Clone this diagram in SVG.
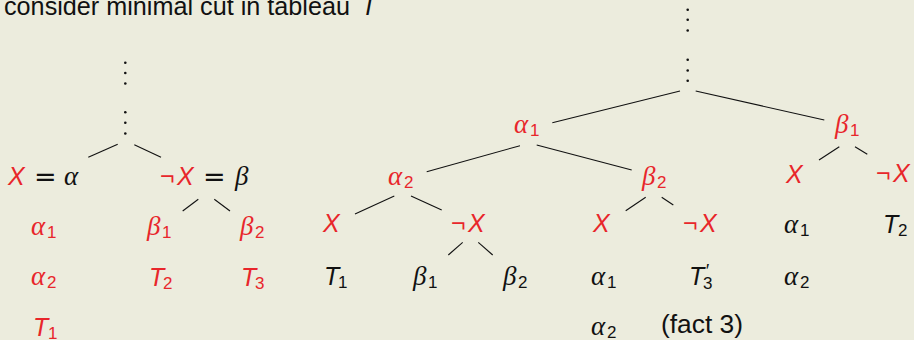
<svg xmlns="http://www.w3.org/2000/svg" width="914" height="340" viewBox="0 0 914 340">
<style>
.t{font-family:"Liberation Sans",Arial,sans-serif;font-size:25px}
.v{font-family:"Liberation Sans",Arial,sans-serif;font-size:25px;font-style:italic}
.g{font-family:"Liberation Serif","DejaVu Serif",serif;font-size:27px;font-style:italic}
.s{font-family:"Liberation Sans",Arial,sans-serif;font-size:17px}
.eq{font-family:"DejaVu Sans",sans-serif;font-size:27px}
.r{fill:#E8262B}
.k{fill:#111}
.e line{stroke:#111;stroke-width:1.1}
.d circle{fill:#111}
</style>
<rect width="914" height="340" fill="#ECECDD"/>
<g id="title">
<text class="t k" x="4" y="15" textLength="346" lengthAdjust="spacingAndGlyphs">consider minimal cut in tableau</text>
<text class="v k" x="361" y="15">T</text>
</g>
<g id="connectors" class="e">
<line x1="117.7" y1="144.3" x2="88.3" y2="157.3"/>
<line x1="134.3" y1="144.7" x2="161" y2="157.3"/>
<line x1="198.3" y1="199.3" x2="182.7" y2="211"/>
<line x1="214.3" y1="199.3" x2="230" y2="211"/>
<line x1="680" y1="91" x2="552.3" y2="122.7"/>
<line x1="695.7" y1="91" x2="824.3" y2="120"/>
<line x1="520" y1="145.7" x2="426.7" y2="171.7"/>
<line x1="536.7" y1="145" x2="631.7" y2="170"/>
<line x1="394.3" y1="196" x2="355" y2="214"/>
<line x1="411" y1="196" x2="441.7" y2="210"/>
<line x1="462.7" y1="242.3" x2="448.3" y2="255"/>
<line x1="478.3" y1="242.3" x2="492.7" y2="255"/>
<line x1="645.7" y1="197.3" x2="625.7" y2="210.7"/>
<line x1="661.7" y1="197.3" x2="673.3" y2="205"/>
<line x1="839.3" y1="146.7" x2="819" y2="160"/>
<line x1="855" y1="146.7" x2="867.3" y2="154.3"/>
</g>
<!-- left tree -->
<g id="L-root" class="d">
<circle cx="125.3" cy="62.7" r="1.3"/><circle cx="125.3" cy="73" r="1.3"/><circle cx="125.3" cy="83.5" r="1.3"/>
<circle cx="125.3" cy="112.3" r="1.3"/><circle cx="125.3" cy="122.7" r="1.3"/><circle cx="125.3" cy="133.5" r="1.3"/>
</g>
<g id="L-X-alpha">
<text class="v r" x="8" y="185">X</text>
<text class="eq k" x="34" y="186">=</text>
<text class="g k" x="64" y="185">α</text>
</g>
<g id="L-notX-beta">
<text class="t r" x="160" y="185">¬</text>
<text class="v r" x="177" y="185">X</text>
<text class="eq k" x="203" y="186">=</text>
<text class="g k" x="235" y="185">β</text>
</g>
<g id="L-alpha1"><text class="g r" x="31" y="235">α</text><text class="s r" x="47" y="238">1</text></g>
<g id="L-alpha2"><text class="g r" x="31" y="285">α</text><text class="s r" x="47" y="288">2</text></g>
<g id="L-T1"><text class="v r" x="33" y="336">T</text><text class="s r" x="48" y="339">1</text></g>
<g id="L-beta1"><text class="g r" x="147" y="235">β</text><text class="s r" x="162" y="238">1</text></g>
<g id="L-beta2"><text class="g r" x="240" y="235">β</text><text class="s r" x="255" y="238">2</text></g>
<g id="L-T2"><text class="v r" x="149" y="286">T</text><text class="s r" x="163" y="289">2</text></g>
<g id="L-T3"><text class="v r" x="241" y="286">T</text><text class="s r" x="255" y="289">3</text></g>
<!-- right tree -->
<g id="R-root" class="d">
<circle cx="687.7" cy="9.7" r="1.3"/><circle cx="687.7" cy="19.7" r="1.3"/><circle cx="687.7" cy="30.5" r="1.3"/>
<circle cx="687.7" cy="59.7" r="1.3"/><circle cx="687.7" cy="70.5" r="1.3"/><circle cx="687.7" cy="80.7" r="1.3"/>
</g>
<g id="R-alpha1"><text class="g r" x="514" y="133">α</text><text class="s r" x="530" y="136">1</text></g>
<g id="R-beta1"><text class="g r" x="835" y="133">β</text><text class="s r" x="850" y="136">1</text></g>
<g id="R-alpha2"><text class="g r" x="388" y="185">α</text><text class="s r" x="404" y="188">2</text></g>
<g id="R-beta2"><text class="g r" x="642" y="185">β</text><text class="s r" x="657" y="188">2</text></g>
<g id="R-X-a"><text class="v r" x="323" y="232">X</text></g>
<g id="R-notX-a"><text class="t r" x="451" y="232">¬</text><text class="v r" x="468" y="232">X</text></g>
<g id="R-T1"><text class="v r k" x="324" y="285" style="fill:#111">T</text><text class="s k" x="338" y="288">1</text></g>
<g id="R-beta1-b"><text class="g k" x="413" y="285">β</text><text class="s k" x="428" y="288">1</text></g>
<g id="R-beta2-b"><text class="g k" x="503" y="285">β</text><text class="s k" x="518" y="288">2</text></g>
<g id="R-X-b"><text class="v r" x="593" y="232">X</text></g>
<g id="R-notX-b"><text class="t r" x="683" y="232">¬</text><text class="v r" x="700" y="232">X</text></g>
<g id="R-alpha1-b"><text class="g k" x="591" y="285">α</text><text class="s k" x="607" y="288">1</text></g>
<g id="R-alpha2-b"><text class="g k" x="591" y="335">α</text><text class="s k" x="607" y="338">2</text></g>
<g id="R-T3p"><text class="v k" x="689" y="285">T</text><text class="t k" x="705" y="277" style="font-size:18px;font-style:italic">′</text><text class="s k" x="703" y="289">3</text></g>
<g id="R-fact"><text class="t k" x="661" y="333" textLength="82" lengthAdjust="spacingAndGlyphs">(fact 3)</text></g>
<g id="R-X-c"><text class="v r" x="786" y="183">X</text></g>
<g id="R-notX-c"><text class="t r" x="876" y="182">¬</text><text class="v r" x="893" y="182">X</text></g>
<g id="R-alpha1-c"><text class="g k" x="784" y="233">α</text><text class="s k" x="800" y="236">1</text></g>
<g id="R-alpha2-c"><text class="g k" x="784" y="285">α</text><text class="s k" x="800" y="288">2</text></g>
<g id="R-T2"><text class="v k" x="883" y="233">T</text><text class="s k" x="898" y="236">2</text></g>
</svg>
